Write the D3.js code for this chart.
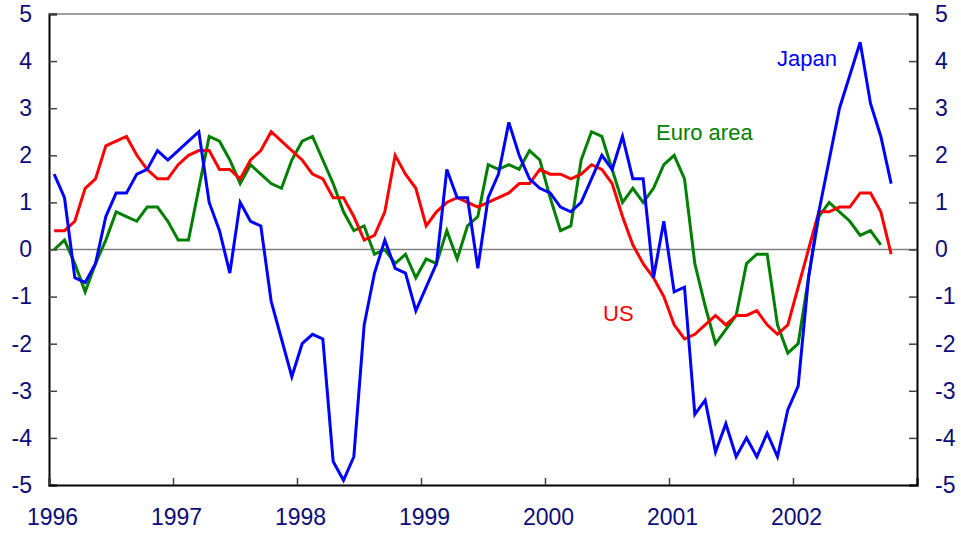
<!DOCTYPE html>
<html>
<head>
<meta charset="utf-8">
<script src="https://cdn.jsdelivr.net/npm/d3@7"></script>
<style>
  body { margin: 0; background: #fff; }
  #chart { width: 961px; height: 534px; }
  text { font-family: "Liberation Sans", Arial, sans-serif; }
</style>
</head>
<body>
<div id="chart"></div>
<script>
// Monthly values, starting January 1996
const startYear = 1996;
const yearTicks = [1996, 1997, 1998, 1999, 2000, 2001, 2002];
const valueTicks = [5, 4, 3, 2, 1, 0, -1, -2, -3, -4, -5];

const japan = [
  1.6, 1.1, -0.6, -0.7, -0.3, 0.7, 1.2, 1.2, 1.6, 1.7, 2.1, 1.9,
  2.1, 2.3, 2.5, 1.0, 0.4, -0.5, 1.0, 0.6, 0.5, -1.1, -1.9, -2.7,
  -2.0, -1.8, -1.9, -4.5, -4.9, -4.4, -1.6, -0.5, 0.2, -0.4, -0.5, -1.3,
  -0.8, -0.3, 1.7, 1.1, 1.1, -0.4, 1.1, 1.6, 2.7, 2.0, 1.5, 1.3,
  1.2, 0.9, 0.8, 1.0, 1.5, 2.0, 1.7, 2.4, 1.5, 1.5, -0.6, 0.6,
  -0.9, -0.8, -3.5, -3.2, -4.3, -3.7, -4.4, -4.0, -4.4, -3.9, -4.4, -3.4,
  -2.9, -0.6, 0.8, 1.9, 3.0, 3.7, 4.4, 3.1, 2.4, 1.4
];

const us = [
  0.4, 0.4, 0.6, 1.3, 1.5, 2.2, 2.3, 2.4, 2.0, 1.7, 1.5, 1.5,
  1.8, 2.0, 2.1, 2.1, 1.7, 1.7, 1.5, 1.9, 2.1, 2.5, 2.3, 2.1,
  1.9, 1.6, 1.5, 1.1, 1.1, 0.7, 0.2, 0.3, 0.8, 2.0, 1.6, 1.3,
  0.5, 0.8, 1.0, 1.1, 1.0, 0.9, 1.0, 1.1, 1.2, 1.4, 1.4, 1.7,
  1.6, 1.6, 1.5, 1.6, 1.8, 1.7, 1.4, 0.7, 0.1, -0.3, -0.6, -1.0,
  -1.6, -1.9, -1.8, -1.6, -1.4, -1.6, -1.4, -1.4, -1.3, -1.6, -1.8, -1.6,
  -0.8, 0.0, 0.8, 0.8, 0.9, 0.9, 1.2, 1.2, 0.8, -0.1
];

const euroArea = [
  0.0, 0.2, -0.3, -0.9, -0.3, 0.2, 0.8, 0.7, 0.6, 0.9, 0.9, 0.6,
  0.2, 0.2, 1.3, 2.4, 2.3, 1.9, 1.4, 1.8, 1.6, 1.4, 1.3, 1.9,
  2.3, 2.4, 1.9, 1.4, 0.8, 0.4, 0.5, -0.1, 0.0, -0.3, -0.1, -0.6,
  -0.2, -0.3, 0.4, -0.2, 0.5, 0.7, 1.8, 1.7, 1.8, 1.7, 2.1, 1.9,
  1.1, 0.4, 0.5, 1.9, 2.5, 2.4, 1.7, 1.0, 1.3, 1.0, 1.3, 1.8,
  2.0, 1.5, -0.3, -1.2, -2.0, -1.7, -1.4, -0.3, -0.1, -0.1, -1.6, -2.2,
  -2.0, -0.6, 0.7, 1.0, 0.8, 0.6, 0.3, 0.4, 0.1
];

const seriesNames = ['Euro area', 'US', 'Japan'];
const seriesColors = ['#008000', '#ff0000', '#0000ff'];
const seriesValues = [euroArea, us, japan];

const width = 961, height = 534;
const margin = { top: 14, right: 44, bottom: 49, left: 49 };
const innerWidth = width - margin.left - margin.right;
const innerHeight = height - margin.top - margin.bottom;

const svg = d3.select('#chart')
  .append('svg')
  .attr('width', width)
  .attr('height', height);

const g = svg.append('g')
  .attr('transform', `translate(${margin.left},${margin.top})`);

// Échelles (x en mois depuis janvier 1996)
const xScale = d3.scaleLinear()
  .domain([0, 84])
  .range([0, innerWidth]);

const yScale = d3.scaleLinear()
  .domain([-5, 5])
  .range([innerHeight, 0]);

const labelColor = '#0c0c78';

// Ligne du haut et ligne zéro
[5, 0].forEach(v => {
  g.append('line')
    .attr('x1', 0).attr('x2', innerWidth)
    .attr('y1', yScale(v)).attr('y2', yScale(v))
    .attr('stroke', '#808080').attr('stroke-width', 1.5);
});

// Axes (tirets simples, pas de signe moins unicode)
const leftAxis = d3.axisLeft(yScale)
  .tickValues(valueTicks)
  .tickSize(-8)
  .tickPadding(17)
  .tickFormat(d => String(d));

const rightAxis = d3.axisRight(yScale)
  .tickValues(valueTicks)
  .tickSize(-8)
  .tickPadding(18)
  .tickFormat(d => String(d));

const bottomAxis = d3.axisBottom(xScale)
  .tickValues(yearTicks.map(y => (y - startYear) * 12))
  .tickSize(-7)
  .tickPadding(24)
  .tickFormat(d => startYear + d / 12);

const axes = [
  g.append('g').call(leftAxis),
  g.append('g').attr('transform', `translate(${innerWidth},0)`).call(rightAxis),
  g.append('g').attr('transform', `translate(0,${innerHeight})`).call(bottomAxis)
];

axes.forEach(ax => {
  ax.select('.domain').attr('stroke', '#000').attr('stroke-width', 2);
  ax.selectAll('.tick line').attr('stroke', '#404040').attr('stroke-width', 1.5);
  ax.selectAll('.tick text')
    .attr('fill', labelColor)
    .style('font-size', '23px');
});

axes[2].selectAll('.tick text').attr('dx', 3);

// Courbes
const line = d3.line()
  .x((d, i) => xScale(i + 0.5))
  .y(d => yScale(d));

seriesValues.forEach((values, k) => {
  g.append('path')
    .datum(values)
    .attr('d', line)
    .attr('fill', 'none')
    .attr('stroke', seriesColors[k])
    .attr('stroke-width', 3);
});

// Étiquettes des séries
const seriesLabels = [
  { name: 'Euro area', x: 607, y: 126 },
  { name: 'US', x: 554, y: 307 },
  { name: 'Japan', x: 728, y: 52 }
];

seriesLabels.forEach(d => {
  g.append('text')
    .attr('x', d.x)
    .attr('y', d.y)
    .attr('fill', seriesColors[seriesNames.indexOf(d.name)])
    .style('font-size', '22px')
    .text(d.name);
});
</script>
</body>
</html>
